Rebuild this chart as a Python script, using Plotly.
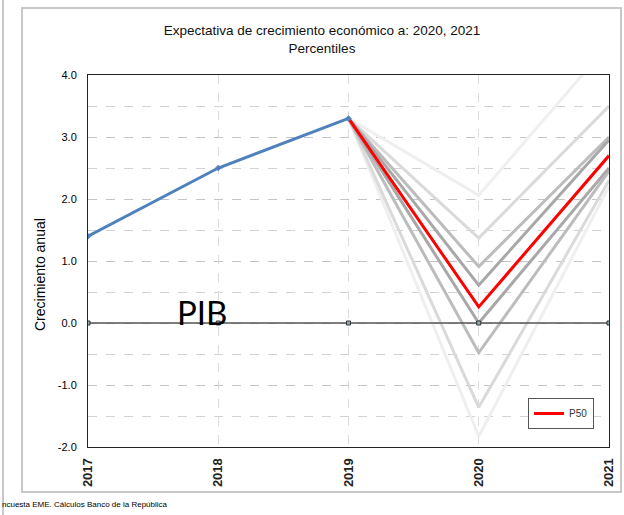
import plotly.graph_objects as go

years = [2017, 2018, 2019, 2020, 2021]
pib_years = [2017, 2018, 2019]
pib = [1.4, 2.5, 3.3]

pct_names = ["P10", "P20", "P30", "P40", "P50", "P60", "P70", "P80", "P90"]
pct_2019 = 3.3
pct_2020 = [-1.83, -1.36, -0.48, 0.0, 0.26, 0.61, 0.91, 1.37, 2.06]
pct_2021 = [2.2, 2.3, 2.45, 2.5, 2.7, 2.95, 3.0, 3.5, 4.5]
pct_colors = ["#efefef", "#dadada", "#bcbcbc", "#a8a8a8", "#ff0000",
              "#a8a8a8", "#bcbcbc", "#dadada", "#efefef"]

y_ticks = [-2, -1, 0, 1, 2, 3, 4]

W, H = 624, 515
L, R, T, B = 88, 15, 75, 68
PW, PH = W - L - R, H - T - B


def px(x):
    return (x - L) / PW


def py(y):
    return (H - B - y) / PH


fig = go.Figure()

# gray percentile fans, lightest first, median last
order = sorted(range(len(pct_names)), key=lambda i: abs(i - 4), reverse=True)
for i in order:
    is_med = pct_names[i] == "P50"
    fig.add_trace(go.Scatter(
        x=[2019, 2020, 2021],
        y=[pct_2019, pct_2020[i], pct_2021[i]],
        mode="lines",
        name=pct_names[i],
        line=dict(color=pct_colors[i], width=3),
        showlegend=is_med,
    ))

fig.add_trace(go.Scatter(
    x=years, y=[0] * len(years),
    mode="lines+markers",
    line=dict(color="#555555", width=1.5),
    marker=dict(symbol="square", size=4, color="#8fb0b8",
                line=dict(color="#333333", width=1)),
    showlegend=False,
))

fig.add_trace(go.Scatter(
    x=pib_years, y=pib,
    mode="lines+markers",
    name="PIB",
    line=dict(color="#4f81bd", width=3),
    marker=dict(symbol="diamond", size=5, color="#4f81bd"),
    showlegend=False,
))

fig.add_annotation(text="PIB", x=px(202), y=py(312), xref="paper", yref="paper",
                   xanchor="center", yanchor="middle", showarrow=False,
                   font=dict(family="Lato", size=33, color="#000000"))
fig.add_annotation(text="Crecimiento anual", x=px(40), y=py(275), xref="paper", yref="paper",
                   xanchor="center", yanchor="middle", showarrow=False, textangle=-90,
                   font=dict(family="Liberation Sans", size=14, color="#000000"))
fig.add_annotation(text="ncuesta EME. Cálculos Banco de la República", x=px(0), y=py(504),
                   xref="paper", yref="paper", xanchor="left", yanchor="middle",
                   showarrow=False,
                   font=dict(family="Liberation Sans", size=8, color="#000000"))

# outer frame of the original graphic
fig.add_shape(type="rect", xref="paper", yref="paper",
              x0=px(22), x1=px(621), y0=py(492), y1=py(8),
              line=dict(color="#c8c8c8", width=2), layer="below")
fig.add_shape(type="line", xref="paper", yref="paper",
              x0=px(3), x1=px(3), y0=py(515), y1=py(0),
              line=dict(color="#c8c8c8", width=2))

fig.update_layout(
    width=W, height=H,
    margin=dict(l=L, r=R, t=T, b=B),
    paper_bgcolor="white",
    plot_bgcolor="white",
    title=dict(text="Expectativa de crecimiento económico a: 2020, 2021<br>Percentiles",
               x=322 / W, xanchor="center", y=1 - 35 / H, yanchor="top",
               font=dict(family="Liberation Sans", size=13.5, color="#111111")),
    font=dict(family="Liberation Sans", size=11, color="#000000"),
    xaxis=dict(
        range=[2017, 2021], tickvals=years, ticktext=[f"<b>{y}</b>" for y in years],
        tickangle=-90, showgrid=True, gridcolor="#dddddd", griddash="dash",
        showline=True, linecolor="#222222", mirror=True, ticks="",
        zeroline=False, tickfont=dict(size=13, color="#222222"), automargin=False,
        ticklabelstandoff=5,
    ),
    yaxis=dict(
        range=[-2, 4], tickvals=y_ticks, ticktext=[f"{v:.1f}" for v in y_ticks],
        showgrid=True, gridcolor="#c4c4c4", griddash="dash", zeroline=False,
        showline=True, linecolor="#222222", mirror=True, ticks="", automargin=False,
        ticklabelstandoff=8,
        minor=dict(dtick=0.5, showgrid=True, gridcolor="#d2d2d2", griddash="dash"),
    ),
    legend=dict(x=px(528), y=py(398), xanchor="left", yanchor="top",
                bordercolor="#555555", borderwidth=1, bgcolor="white",
                itemwidth=30, font=dict(size=10, color="#333333")),
)

fig.write_html("out.html", config={"displayModeBar": False},
               post_script="document.body.style.margin='0';")
